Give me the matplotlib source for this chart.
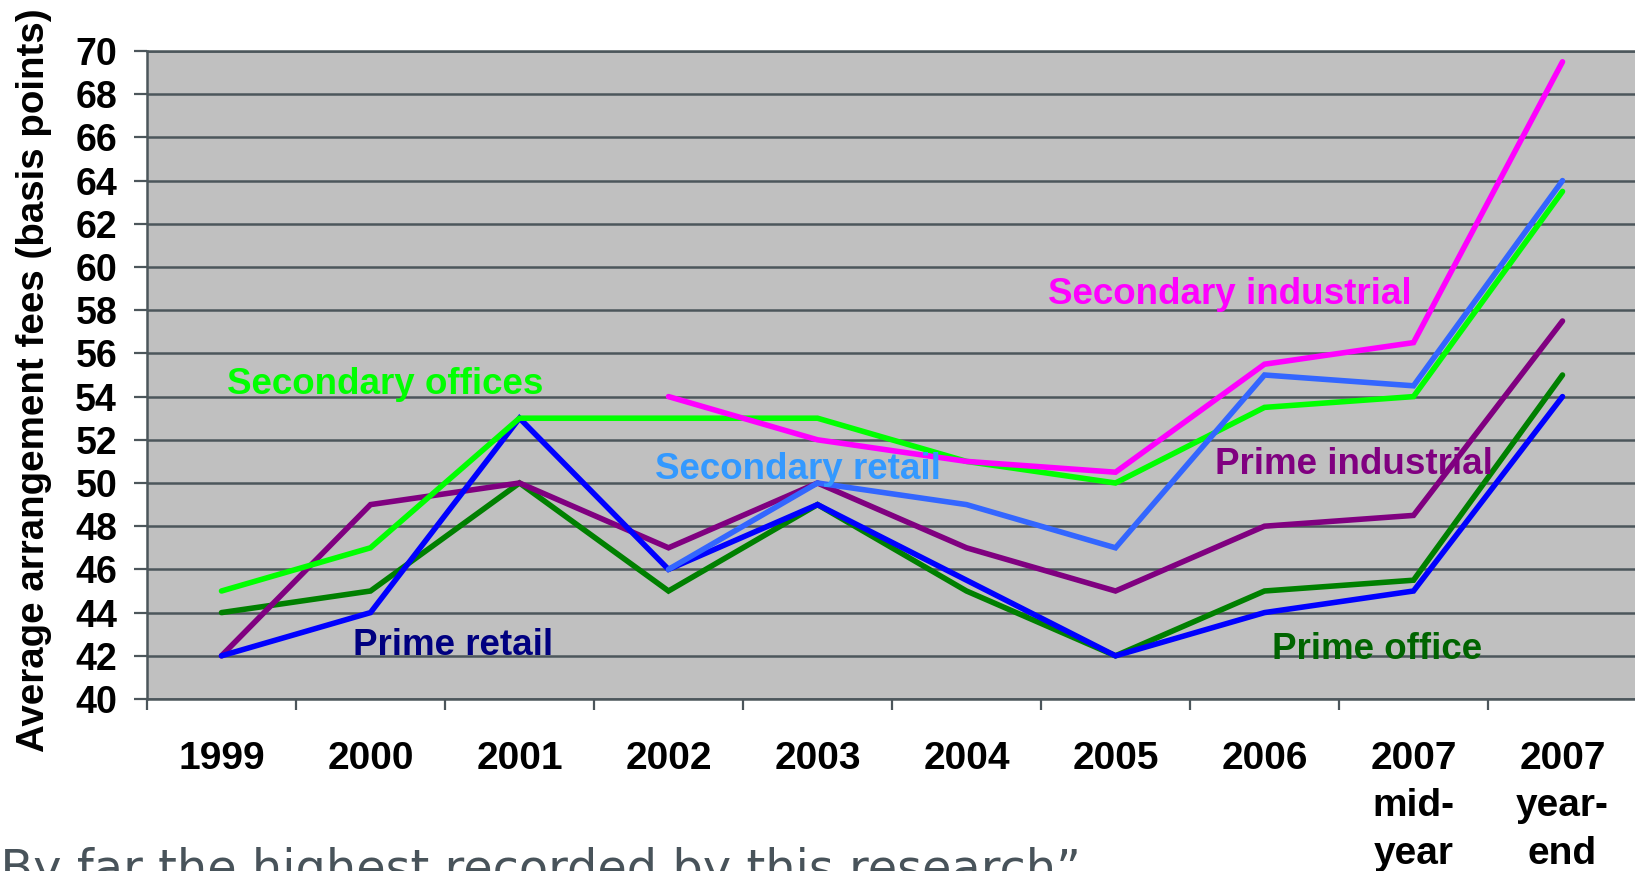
import numpy as np
import matplotlib
matplotlib.use("Agg")
import matplotlib.pyplot as plt

plt.rcParams["font.family"] = ["Liberation Sans", "DejaVu Sans"]
plt.rcParams["font.weight"] = "bold"

# categories along the x axis
periods = ["1999", "2000", "2001", "2002", "2003", "2004", "2005", "2006",
           "2007\nmid-\nyear", "2007\nyear-\nend"]

# average arrangement fees, basis points
nan = np.nan
prime_office = [44, 45, 50, 45, 49, 45, 42, 45, 45.5, 55]
prime_industrial = [42, 49, 50, 47, 50, 47, 45, 48, 48.5, 57.5]
prime_retail = [42, 44, 53, 46, 49, 45.5, 42, 44, 45, 54]
secondary_offices = [45, 47, 53, 53, 53, 51, 50, 53.5, 54, 63.5]
secondary_retail = [nan, nan, nan, 46, 50, 49, 47, 55, 54.5, 64]
secondary_industrial = [nan, nan, nan, 54, 52, 51, 50.5, 55.5, 56.5, 69.5]

yticks = list(range(40, 71, 2))

# (values, line colour, label, label colour, label x, label baseline y)
series = [
    (prime_office, "#008000", "Prime office", "#006400", 7.05, 41.85),
    (prime_industrial, "#800080", "Prime industrial", "#800080", 6.67, 50.4),
    (prime_retail, "#0000FF", "Prime retail", "#000080", 0.88, 42.06),
    (secondary_offices, "#00FF00", "Secondary offices", "#00FF00", 0.04, 54.12),
    (secondary_retail, "#3366FF", "Secondary retail", "#3399FF", 2.91, 50.2),
    (secondary_industrial, "#FF00FF", "Secondary industrial", "#FF00FF", 5.55, 58.3),
]

grid_col = "#4c565b"

fig = plt.figure(figsize=(16.35, 8.71), dpi=100)
ax = fig.add_axes([147 / 1635, (871 - 699) / 871, 1490 / 1635, 648 / 871])
ax.set_facecolor("#C0C0C0")

x = np.arange(len(periods))
for vals, col, name, tcol, tx, ty in series:
    ax.plot(x, vals, color=col, lw=4.0, solid_capstyle="round",
            solid_joinstyle="miter", zorder=3)
    ax.text(tx, ty, name, color=tcol, fontsize=26.5, fontweight="bold",
            ha="left", va="baseline", zorder=4)

ax.set_xlim(-0.5, len(periods) - 0.5)
ax.set_ylim(40, 70)

ax.set_yticks(yticks)
ax.set_yticklabels([str(v) for v in yticks])
ax.yaxis.grid(True, color=grid_col, lw=1.8)
ax.set_axisbelow(True)
ax.tick_params(axis="y", length=9.5, width=1.6, color=grid_col, pad=12,
               labelsize=27, direction="out")

ax.set_xticks(x)
ax.set_xticklabels(periods, linespacing=1.42)
ax.set_xticks(np.arange(-0.5, len(periods) - 0.5, 1.0), minor=True)
ax.tick_params(axis="x", which="major", length=0, pad=30, labelsize=28)
ax.tick_params(axis="x", which="minor", length=8, width=1.6, color=grid_col,
               direction="out")

for side in ["left", "bottom", "top"]:
    ax.spines[side].set_color(grid_col)
    ax.spines[side].set_linewidth(1.8)
ax.spines["right"].set_visible(False)

fig.text(34 / 1635, 1 - 380 / 871, "Average arrangement fees (basis points)",
         rotation=90, ha="center", va="center", fontsize=27.7,
         fontweight="bold", color="black")

fig.text(1081 / 1635, (871 - 884) / 871,
         "\u201cBy far the highest recorded by this research\u201d",
         ha="right", va="baseline", fontsize=34.5, fontweight="normal",
         family="DejaVu Sans", color="#48535a")

fig.savefig("out.png", dpi=100)
